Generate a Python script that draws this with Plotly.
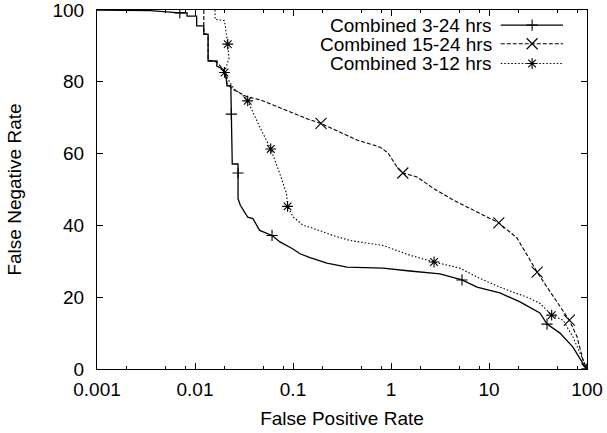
import plotly.graph_objects as go

# ---- data ----
fpr_3_24 = [0.001, 0.0035, 0.0070, 0.0083, 0.0083, 0.0104, 0.0104, 0.0123, 0.0123, 0.0136,
            0.0136, 0.0167, 0.0167, 0.0193, 0.0205, 0.0212, 0.0232, 0.0235, 0.0240, 0.0275,
            0.0275, 0.0275, 0.0290, 0.0345, 0.0390, 0.0457, 0.0611, 0.0736, 0.099, 0.118,
            0.149, 0.222, 0.356, 0.828, 1.56, 3.16, 5.30, 7.55, 12.9, 20.7,
            33.1, 39.1, 53.0, 71.9, 95.4, 100]
fnr_3_24 = [100, 99.8, 99.2, 99.2, 98.3, 98.3, 95.6, 95.6, 93.2, 93.2,
            85.8, 85.8, 84.4, 83.5, 82.6, 78.9, 78.9, 71.0, 57.1, 57.1,
            54.6, 47.4, 45.6, 42.3, 41.9, 38.6, 37.2, 35.4, 33.5, 32.1,
            31.0, 29.5, 28.4, 28.1, 27.3, 26.5, 24.8, 22.8, 21.2, 18.7,
            15.6, 12.5, 10.0, 6.1, 0.6, 0]
marked_3_24 = [2, 17, 20, 26, 36, 41, 45]

fpr_15_24 = [0.0123, 0.0123, 0.0136, 0.0136, 0.0167, 0.0193, 0.0205, 0.0212, 0.0244, 0.0340,
             0.046, 0.100, 0.149, 0.193, 0.45, 0.773, 0.931, 1.15, 1.32, 1.84,
             2.68, 4.29, 7.55, 12.6, 19.3, 25.0, 31.0, 39.1, 53.0, 66.0,
             79.1, 91.0, 100]
fnr_15_24 = [100, 93.5, 93.2, 86.0, 85.5, 83.5, 82.0, 79.5, 77.9, 75.8,
             75.0, 71.3, 69.4, 68.4, 63.8, 61.8, 60.2, 56.3, 54.6, 53.5,
             50.4, 47.1, 43.7, 40.7, 36.5, 31.2, 27.0, 22.8, 17.3, 13.6,
             9.0, 2.5, 0]
marked_15_24 = [13, 18, 23, 26, 29, 32]

fpr_3_12 = [0.0160, 0.0160, 0.0200, 0.0208, 0.0216, 0.0222, 0.0200, 0.0225, 0.0250, 0.0300,
            0.0345, 0.046, 0.0593, 0.0736, 0.086, 0.088, 0.101, 0.127, 0.149, 0.256,
            0.382, 0.828, 1.56, 2.75, 5.06, 7.55, 12.9, 24.4, 33.1, 43.6,
            56.9, 71.9, 91.0, 100]
fnr_3_12 = [100, 97.4, 97.0, 94.0, 90.5, 86.5, 82.6, 80.0, 78.0, 76.5,
            74.7, 67.3, 61.3, 54.3, 48.8, 45.3, 42.3, 40.0, 39.5, 37.2,
            35.8, 34.4, 31.7, 29.8, 28.1, 25.6, 22.8, 20.0, 18.3, 15.0,
            13.6, 8.9, 2.5, 0]
marked_3_12 = [4, 6, 10, 12, 15, 23, 29, 33]

series_names = ["Combined 3-24 hrs", "Combined 15-24 hrs", "Combined 3-12 hrs"]
x_tick_vals = [0.001, 0.01, 0.1, 1, 10, 100]
x_tick_text = ["0.001", "0.01", "0.1", "1", "10", "100"]
y_tick_vals = [0, 20, 40, 60, 80, 100]

# ---- styles ----
FONT = "Liberation Sans, Arial, Helvetica, sans-serif"
FS = 19
styles = [
    dict(dash="solid", width=1.3, symbol="cross-thin-open", size=8),
    dict(dash="4px,2px", width=1.1, symbol="x-thin-open", size=11),
    dict(dash="1.5px,2px", width=1.1, symbol="asterisk-open", size=9),
]
series = [
    (fpr_3_24, fnr_3_24, marked_3_24),
    (fpr_15_24, fnr_15_24, marked_15_24),
    (fpr_3_12, fnr_3_12, marked_3_12),
]

fig = go.Figure()
for (xs, ys, mk), st in zip(series, styles):
    fig.add_trace(go.Scatter(x=xs, y=ys, mode="lines",
                             line=dict(color="black", width=st["width"], dash=st["dash"]),
                             showlegend=False, hoverinfo="skip"))
    fig.add_trace(go.Scatter(x=[xs[i] for i in mk], y=[ys[i] for i in mk], mode="markers",
                             marker=dict(symbol=st["symbol"], size=st["size"], color="black",
                                         line=dict(color="black", width=1.1)),
                             showlegend=False, hoverinfo="skip"))

# ---- gnuplot-style key (text left, sample right) on a hidden overlay axis ----
key_rows = [0.958, 0.906, 0.851]
key_text_x = 0.808
key_line = [0.824, 0.951]
key_mark = 0.888
for name, st, ry in zip(series_names, styles, key_rows):
    fig.add_trace(go.Scatter(x=key_line, y=[ry, ry], mode="lines", xaxis="x2", yaxis="y2",
                             line=dict(color="black", width=st["width"], dash=st["dash"]),
                             showlegend=False, hoverinfo="skip"))
    fig.add_trace(go.Scatter(x=[key_mark], y=[ry], mode="markers", xaxis="x2", yaxis="y2",
                             marker=dict(symbol=st["symbol"], size=st["size"], color="black",
                                         line=dict(color="black", width=1.1)),
                             showlegend=False, hoverinfo="skip"))
    fig.add_annotation(x=key_text_x, y=ry, xref="paper", yref="paper", text=name,
                       showarrow=False, xanchor="right", yanchor="middle",
                       height=18, valign="middle", borderpad=0,
                       font=dict(family=FONT, size=FS, color="black"))

minor_x = []
for d in [0.001, 0.01, 0.1, 1, 10]:
    minor_x += [2 * d, 5 * d, 8 * d]

fig.update_layout(
    width=607, height=433,
    margin=dict(l=97, r=20, t=10, b=64),
    paper_bgcolor="white", plot_bgcolor="white",
    font=dict(family=FONT, size=FS, color="black"),
    showlegend=False,
    xaxis=dict(type="log", range=[-3, 2], tickmode="array", tickvals=x_tick_vals,
               ticktext=x_tick_text, ticks="inside", ticklen=6, tickwidth=1,
               tickcolor="black", showline=True, linecolor="black", linewidth=1,
               mirror="ticks", showgrid=False, zeroline=False, ticklabelstandoff=3,
               automargin=False, ticklabeloverflow="allow",
               minor=dict(tickmode="array", tickvals=minor_x, ticks="inside", ticklen=3,
                          tickwidth=1, tickcolor="black", showgrid=False),
               title=dict(text="False Positive Rate", standoff=12,
                          font=dict(family=FONT, size=FS))),
    yaxis=dict(range=[0, 100], tickmode="array", tickvals=y_tick_vals, ticks="inside",
               ticklen=6, tickwidth=1, tickcolor="black", showline=True,
               linecolor="black", linewidth=1, mirror="ticks", showgrid=False,
               zeroline=False, ticklabelstandoff=8, automargin=False,
               ticklabeloverflow="allow",
               title=dict(text="False Negative Rate", standoff=25,
                          font=dict(family=FONT, size=FS))),
    xaxis2=dict(overlaying="x", range=[0, 1], visible=False, anchor="y2"),
    yaxis2=dict(overlaying="y", range=[0, 1], visible=False, anchor="x2"),
)

fig.write_html("out.html", config={"displayModeBar": False},
               post_script="document.body.style.margin='0';document.body.style.padding='0';")
